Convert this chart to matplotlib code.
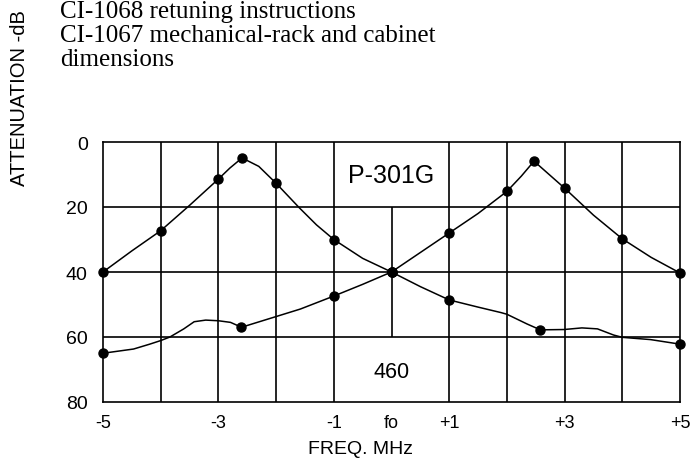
import matplotlib
matplotlib.use("Agg")
import matplotlib.pyplot as plt

plt.rcParams['font.family'] = ['Liberation Sans', 'DejaVu Sans']

# P-301G, lower channel (peak near -2.5 MHz)
p301_lo_x = [-5, -4.5, -4, -3.5, -3, -2.8, -2.59, -2.3, -2, -1.6, -1.3, -1, -0.5, 0]
p301_lo_y = [40, 33.5, 27.3, 19.5, 11.4, 8.0, 4.9, 7.5, 12.7, 20.2, 25.5, 30, 35.8, 40]
p301_lo_dot_x = [-5, -4, -3, -2.59, -2, -1, 0]
p301_lo_dot_y = [40, 27.3, 11.4, 4.9, 12.7, 30, 40]

# P-301G, upper channel (peak near +2.5 MHz)
p301_hi_x = [0, 0.5, 1, 1.5, 2, 2.25, 2.47, 2.7, 3, 3.5, 4, 4.5, 5]
p301_hi_y = [40, 34, 28, 22, 15.2, 10.5, 5.9, 9.5, 14.2, 22.5, 29.8, 35.5, 40.3]
p301_hi_dot_x = [0, 1, 2, 2.47, 3, 4, 5]
p301_hi_dot_y = [40, 28, 15.2, 5.9, 14.2, 29.8, 40.3]

# 460 curve
c460_x = [-5, -4.47, -4.19, -4, -3.84, -3.6, -3.42, -3.22, -3.0, -2.79, -2.6,
          -1.98, -1.58, -1, -0.5, 0, 0.5, 1, 1.5, 1.9, 2.0, 2.35, 2.58,
          2.99, 3.3, 3.57, 3.85, 4.0, 4.49, 5]
c460_y = [65, 63.7, 62.2, 61.1, 60, 57.5, 55.3, 54.8, 55, 55.5, 57,
          53.6, 51.4, 47.4, 43.8, 40, 44.5, 48.6, 50.8, 52.5, 53, 56, 57.8,
          57.7, 57.2, 57.5, 59.4, 60.1, 60.8, 62.2]
c460_dot_x = [-5, -2.6, -1, 0, 1, 2.58, 5]
c460_dot_y = [65, 57, 47.4, 40, 48.6, 57.8, 62.2]

xtick_pos = [-5, -3, -1, 0, 1, 3, 5]
xtick_labels = ['-5', '-3', '-1', 'fo', '+1', '+3', '+5']
ytick_pos = [0, 20, 40, 60, 80]
ytick_labels = ['0', '20', '40', '60', '80']

header_lines = ['CI-1068 retuning instructions',
                'CI-1067 mechanical-rack and cabinet',
                'dimensions']
header_baselines = [18, 42, 66]

W, H = 697, 464
fig = plt.figure(figsize=(W / 100, H / 100), dpi=100)
ax = fig.add_axes([103 / W, 61 / H, 577 / W, 260 / H])
ax.set_xlim(-5, 5)
ax.set_ylim(80, 0)

# grid (centre line only between 20 and 60, labels sit above/below it)
grid_kw = dict(color='black', lw=1.2, zorder=1)
ax.vlines([-4, -3, -2, -1, 1, 2, 3, 4], 0, 80, **grid_kw)
ax.vlines(0, 20, 60, **grid_kw)
ax.hlines([20, 40, 60], -5, 5, **grid_kw)
for s in ax.spines.values():
    s.set_linewidth(1.2)

line_kw = dict(color='black', lw=1.1, zorder=3, clip_on=False)
dot_kw = dict(color='black', ls='none', marker='o', ms=6.5, zorder=4, clip_on=False)
ax.plot(p301_lo_x, p301_lo_y, **line_kw)
ax.plot(p301_lo_dot_x, p301_lo_dot_y, **dot_kw)
ax.plot(p301_hi_x, p301_hi_y, **line_kw)
ax.plot(p301_hi_dot_x, p301_hi_dot_y, **dot_kw)
ax.plot(c460_x, c460_y, **line_kw)
ax.plot(c460_dot_x, c460_dot_y, **dot_kw)

ax.text(0, 10.2, 'P-301G', ha='center', va='center', fontsize=18)
ax.text(0, 70.5, '460', ha='center', va='center', fontsize=15.5)

ax.set_xticks(xtick_pos, xtick_labels)
ax.set_yticks(ytick_pos, ytick_labels)
ax.tick_params(axis='x', length=0, labelsize=13, pad=9)
ax.tick_params(axis='y', length=0, labelsize=14, pad=11)

fig.text(360 / W, 1 - 450 / H, 'FREQ. MHz', ha='center', va='center', fontsize=14)
fig.text(20 / W, 1 - 186 / H, 'ATTENUATION -dB', rotation=90,
         ha='center', va='bottom', fontsize=14.5)

for line, base in zip(header_lines, header_baselines):
    fig.text(60 / W, 1 - base / H, line, ha='left', va='baseline',
             fontsize=18, family=['Liberation Serif', 'DejaVu Serif'])

fig.savefig('out.png', dpi=100, facecolor='white')
